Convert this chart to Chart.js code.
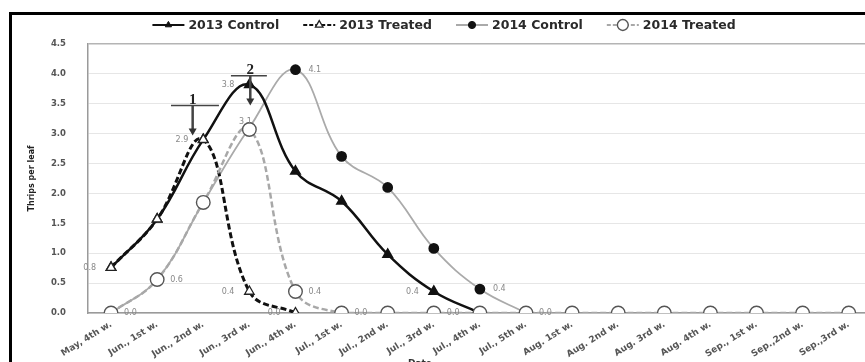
<!DOCTYPE html>
<html>
<head>
<meta charset="utf-8">
<script src="https://cdn.jsdelivr.net/npm/chart.js@4/dist/chart.umd.min.js"></script>
<style>
  html, body { margin: 0; padding: 0; background: #fff; overflow: hidden; width: 865px; height: 362px; }
  #wrap { position: absolute; left: 0; top: 0; width: 880px; height: 372px; }
  #frame { position: absolute; left: 9px; top: 12px; width: 900px; height: 420px; border: 3px solid #000; pointer-events: none; }
</style>
</head>
<body>
<div id="wrap"><canvas id="c" width="880" height="372"></canvas></div>
<div id="frame"></div>
<script>
// Sampling weeks
const weekLabels = [
  'May, 4th w.', 'Jun., 1st w.', 'Jun., 2nd w.', 'Jun., 3rd w.', 'Jun., 4th w.',
  'Jul., 1st w.', 'Jul., 2nd w.', 'Jul., 3rd w.', 'Jul., 4th w.', 'Jul., 5th w.',
  'Aug. 1st w.', 'Aug. 2nd w.', 'Aug. 3rd w.', 'Aug. 4th w.',
  'Sep., 1st w.', 'Sep.,2nd w.', 'Sep.,3rd w.'
];

// Thrips per leaf
const control2013 = [0.76, 1.57, 2.9, 3.82, 2.37, 1.87, 0.98, 0.36, 0, null, null, null, null, null, null, null, null];
const treated2013 = [0.76, 1.57, 2.9, 0.36, 0, null, null, null, null, null, null, null, null, null, null, null, null];
const control2014 = [0, 0.56, 1.85, 3.1, 4.07, 2.62, 2.1, 1.08, 0.4, 0, null, null, null, null, null, null, null];
const treated2014 = [0, 0.56, 1.85, 3.07, 0.36, 0, 0, 0, 0, 0, 0, 0, 0, 0, 0, 0, 0];

const seriesNames = ['2013 Control', '2013 Treated', '2014 Control', '2014 Treated'];

// y axis range
const yMin = 0, yMax = 4.5, yStep = 0.5;

// Points that carry a value label, and where the label sits
const valueLabels = [
  { series: 0, index: 0, side: 'left' },
  { series: 0, index: 2, side: 'left' },
  { series: 0, index: 3, side: 'left' },
  { series: 0, index: 7, side: 'left' },
  { series: 1, index: 3, side: 'left' },
  { series: 1, index: 4, side: 'left' },
  { series: 2, index: 4, side: 'right' },
  { series: 2, index: 8, side: 'right' },
  { series: 3, index: 0, side: 'right' },
  { series: 3, index: 1, side: 'right' },
  { series: 3, index: 3, side: 'above' },
  { series: 3, index: 4, side: 'right' },
  { series: 3, index: 5, side: 'right' },
  { series: 3, index: 7, side: 'right' },
  { series: 3, index: 9, side: 'right' }
];

// Peak markers "1" and "2": bar from x0..x1 at yBar, arrow at xa down to yTip
const peakMarks = [
  { text: '1', x0: 1.30, x1: 2.34, xa: 1.77, yBar: 3.47, yTip: 2.97 },
  { text: '2', x0: 2.60, x1: 3.38, xa: 3.02, yBar: 3.97, yTip: 3.47 }
];

const FONT = 'DejaVu Sans';

const datasets = [
  {
    label: seriesNames[0], data: control2013,
    borderColor: '#111', borderWidth: 2.5, tension: 0.4,
    pointStyle: 'triangle', pointRadius: 4.5, pointBackgroundColor: '#111', pointBorderColor: '#111',
    order: 2
  },
  {
    label: seriesNames[1], data: treated2013,
    borderColor: '#111', borderWidth: 3, borderDash: [6, 3], tension: 0.4,
    pointStyle: 'triangle', pointRadius: 5.5, pointBackgroundColor: '#fff', pointBorderColor: '#222', pointBorderWidth: 1.3,
    order: 1
  },
  {
    label: seriesNames[2], data: control2014,
    borderColor: '#aaaaaa', borderWidth: 1.8, tension: 0.4,
    pointStyle: 'circle', pointRadius: 4.5, pointBackgroundColor: '#111', pointBorderColor: '#111',
    order: 3
  },
  {
    label: seriesNames[3], data: treated2014,
    borderColor: '#a8a8a8', borderWidth: 2.5, borderDash: [6, 3], tension: 0.4,
    pointStyle: 'circle', pointRadius: 6.8, pointBackgroundColor: '#fff', pointBorderColor: '#555', pointBorderWidth: 1.4,
    order: 0
  }
];

// Legend: line sample with marker, then name
const legendPlugin = {
  id: 'lineMarkerLegend',
  afterDraw(chart) {
    const ctx = chart.ctx;
    const dsets = chart.data.datasets;
    const iconW = 32, gapIcon = 4, gapItem = 24, cy = 25;
    ctx.save();
    ctx.font = 'bold 12.5px "' + FONT + '"';
    const widths = dsets.map(d => ctx.measureText(d.label).width);
    const total = widths.reduce((a, w) => a + w + iconW + gapIcon, 0) + gapItem * (dsets.length - 1);
    let x = chart.width / 2 + 4 - total / 2;
    dsets.forEach((d, i) => {
      ctx.save();
      ctx.strokeStyle = d.borderColor;
      ctx.lineWidth = 2;
      ctx.setLineDash(d.borderDash ? [4, 2] : []);
      ctx.beginPath(); ctx.moveTo(x, cy); ctx.lineTo(x + iconW, cy); ctx.stroke();
      ctx.setLineDash([]);
      ctx.fillStyle = d.pointBackgroundColor; ctx.strokeStyle = d.pointBorderColor;
      ctx.lineWidth = d.pointBorderWidth || 1;
      Chart.helpers.drawPoint(ctx, {
        pointStyle: d.pointStyle, radius: d.pointRadius * 0.8, rotation: 0, borderWidth: d.pointBorderWidth || 1
      }, x + iconW / 2, cy);
      ctx.restore();
      ctx.fillStyle = '#2a2a2a';
      ctx.font = 'bold 12.5px "' + FONT + '"';
      ctx.textBaseline = 'middle';
      ctx.textAlign = 'left';
      ctx.fillText(d.label, x + iconW + gapIcon, cy + 0.5);
      x += iconW + gapIcon + widths[i] + gapItem;
    });
    ctx.restore();
  }
};

// Value labels, peak markers and x axis title
const notesPlugin = {
  id: 'notes',
  afterDatasetsDraw(chart) {
    const ctx = chart.ctx;
    const xs = chart.scales.x, ys = chart.scales.y;
    ctx.save();
    ctx.font = '8px "' + FONT + '"';
    ctx.fillStyle = '#888';
    ctx.textBaseline = 'middle';
    valueLabels.forEach(l => {
      const v = chart.data.datasets[l.series].data[l.index];
      const px = xs.getPixelForValue(l.index), py = ys.getPixelForValue(v);
      const t = v.toFixed(1);
      if (l.side === 'left') { ctx.textAlign = 'right'; ctx.fillText(t, px - 15, py); }
      else if (l.side === 'right') { ctx.textAlign = 'left'; ctx.fillText(t, px + 13, py); }
      else { ctx.textAlign = 'center'; ctx.fillText(t, px - 4, py - 8); }
    });

    peakMarks.forEach(m => {
      const x0 = xs.getPixelForValue(m.x0), x1 = xs.getPixelForValue(m.x1);
      const xa = xs.getPixelForValue(m.xa);
      const yb = ys.getPixelForValue(m.yBar), yt = ys.getPixelForValue(m.yTip);
      ctx.strokeStyle = '#444'; ctx.fillStyle = '#333'; ctx.lineWidth = 1.5;
      ctx.beginPath(); ctx.moveTo(x0, yb); ctx.lineTo(x1, yb); ctx.stroke();
      ctx.lineWidth = 2.5;
      ctx.beginPath(); ctx.moveTo(xa, yb); ctx.lineTo(xa, yt - 6); ctx.stroke();
      ctx.beginPath(); ctx.moveTo(xa - 4, yt - 7); ctx.lineTo(xa + 4, yt - 7); ctx.lineTo(xa, yt); ctx.closePath(); ctx.fill();
      ctx.font = 'bold 15px "Liberation Serif"';
      ctx.textAlign = 'center'; ctx.textBaseline = 'alphabetic';
      ctx.fillStyle = '#222';
      ctx.fillText(m.text, xa, yb - 1.5);
    });

    ctx.font = 'bold 9px "' + FONT + '"';
    ctx.fillStyle = '#333';
    ctx.textAlign = 'center'; ctx.textBaseline = 'middle';
    ctx.fillText('Date', xs.getPixelForValue(6.7), 364);
    ctx.restore();
  }
};

new Chart(document.getElementById('c'), {
  type: 'line',
  data: { labels: weekLabels, datasets },
  options: {
    responsive: false,
    animation: false,
    events: [],
    layout: { padding: { top: 44, right: 6, left: 0, bottom: 0 } },
    plugins: { legend: { display: false }, tooltip: { enabled: false } },
    scales: {
      x: {
        type: 'category',
        offset: true,
        grid: { display: false, drawTicks: false },
        border: { display: true, color: '#9a9a9a', width: 1.5 },
        ticks: {
          autoSkip: false, minRotation: 32, maxRotation: 32, padding: 6,
          color: '#555', font: { family: FONT, size: 9, weight: 'bold' }
        },
        afterFit(scale) { scale.height = 59; }
      },
      y: {
        min: yMin, max: yMax,
        grid: {
          drawTicks: false,
          color: ctx => (ctx.tick && ctx.tick.value === yMax) ? '#b4b4b4' : '#e6e6e6',
          lineWidth: ctx => (ctx.tick && ctx.tick.value === yMax) ? 1.5 : 1
        },
        border: { display: true, color: '#9a9a9a', width: 1.5 },
        ticks: {
          stepSize: yStep, padding: 22,
          color: '#555', font: { family: FONT, size: 8.5, weight: 'bold' },
          callback: v => Number(v).toFixed(1)
        },
        title: {
          display: true, text: 'Thrips per leaf', color: '#222',
          font: { family: FONT, size: 8, weight: 'bold' },
          padding: { top: 27, bottom: 0 }
        },
        afterFit(scale) { scale.width = 88; }
      }
    }
  },
  plugins: [legendPlugin, notesPlugin]
});
</script>
</body>
</html>
